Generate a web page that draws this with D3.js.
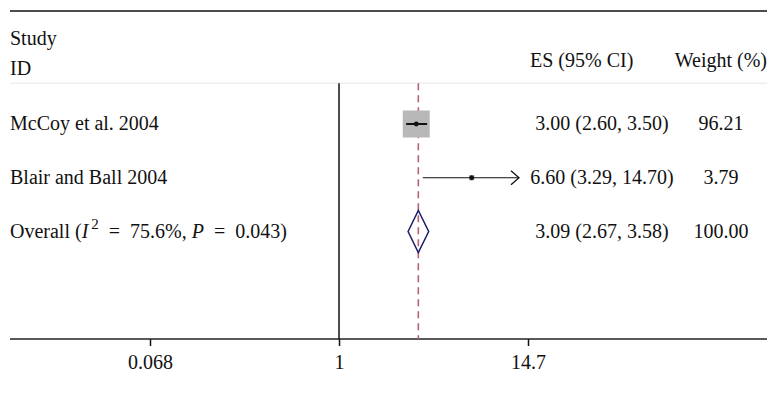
<!DOCTYPE html>
<html lang="en">
<head>
    <meta charset="UTF-8">
    <title>Forest plot</title>
    <script src="https://cdn.jsdelivr.net/npm/d3@7"></script>
</head>
<style>
    body {
        margin: 0;
        background: #fff;
    }
    text {
        font-family: "Liberation Serif", "DejaVu Serif", serif;
        font-size: 20px;
        fill: #111;
    }
</style>
<body>
<div id="my_dataviz"></div>

<script>
    // data
    var studies = ["McCoy et al. 2004", "Blair and Ball 2004"];
    var es = [3.00, 6.60];
    var lower = [2.60, 3.29];
    var upper = [3.50, 14.70];
    var weights = ["96.21", "3.79"];
    var overall = {es: 3.09, lower: 2.67, upper: 3.58, weight: "100.00"};
    var tickValues = [0.068, 1, 14.7];
    var tickLabels = ["0.068", "1", "14.7"];

    var width = 770, height = 393;

    var svg = d3.select("#my_dataviz")
        .append("svg")
        .attr("width", width)
        .attr("height", height);

    // log scale for effect sizes
    var x = d3.scaleLog()
        .domain([0.068, 14.7])
        .range([150, 528]);

    // one row per study, overall on row 2, axis on row 4
    var y = d3.scaleLinear()
        .domain([0, 4])
        .range([124, 339]);

    var plotTop = y(-0.76);
    var left = 10, right = 767;
    var esCol = 602, wCol = 721;

    // top rule
    svg.append("line")
        .attr("x1", left).attr("x2", right)
        .attr("y1", 11).attr("y2", 11)
        .attr("stroke", "#111").attr("stroke-width", 1.5);

    // faint top of plot region
    svg.append("line")
        .attr("x1", left).attr("x2", right)
        .attr("y1", plotTop).attr("y2", plotTop)
        .attr("stroke", "#e6e6e6").attr("stroke-width", 1);

    // headers
    svg.append("text").attr("x", left).attr("y", 45).text("Study");
    svg.append("text").attr("x", left).attr("y", 75).text("ID");
    svg.append("text").attr("x", 530).attr("y", 67)
        .text("ES (95% CI)");
    svg.append("text").attr("x", right).attr("y", 67)
        .style("text-anchor", "end").text("Weight (%)");

    // x axis
    var xAxis = svg.append("g")
        .attr("transform", "translate(0," + y(4) + ")")
        .call(d3.axisBottom(x)
            .tickValues(tickValues)
            .tickFormat(function(d, i) { return tickLabels[i]; })
            .tickSizeOuter(0)
            .tickSize(7)
            .tickPadding(9));
    xAxis.select(".domain").remove();
    xAxis.selectAll("line").attr("stroke", "#111").attr("stroke-width", 1.5);
    xAxis.selectAll("text")
        .attr("font-family", null).attr("font-size", null)
        .style("font-size", "20px").style("fill", "#111");
    svg.append("line")
        .attr("x1", left).attr("x2", right)
        .attr("y1", y(4)).attr("y2", y(4))
        .attr("stroke", "#222").attr("stroke-width", 1.5);

    // null line
    svg.append("line")
        .attr("x1", x(1)).attr("x2", x(1))
        .attr("y1", plotTop).attr("y2", y(4))
        .attr("stroke", "#111").attr("stroke-width", 1.5);

    // overall effect line
    svg.append("line")
        .attr("x1", x(overall.es)).attr("x2", x(overall.es))
        .attr("y1", plotTop).attr("y2", y(4))
        .attr("stroke", "#b4636e").attr("stroke-width", 1.6)
        .attr("stroke-dasharray", "7,5");

    // study boxes, sized by weight
    var boxSize = d3.scaleSqrt().domain([0, 96.21]).range([0, 27]);
    studies.forEach(function(s, i) {
        var cy = y(i);
        var b = Math.max(boxSize(+weights[i]), 5);
        svg.append("rect")
            .attr("x", x(es[i]) - b / 2).attr("y", cy - b / 2)
            .attr("width", b).attr("height", b)
            .attr("fill", "#b8b8b8");

        var clipped = upper[i] >= x.domain()[1];
        var x2 = clipped ? x(x.domain()[1]) - 9 : x(upper[i]);
        svg.append("line")
            .attr("x1", x(lower[i])).attr("x2", x2)
            .attr("y1", cy).attr("y2", cy)
            .attr("stroke", "#111").attr("stroke-width", i === 0 ? 2 : 1.2);

        if (clipped) {
            // open arrow head where the interval runs off the scale
            svg.append("path")
                .attr("d", "M" + (x2 - 8) + "," + (cy - 7) + "L" + x2 + "," + cy + "L" + (x2 - 8) + "," + (cy + 7))
                .attr("fill", "none").attr("stroke", "#111").attr("stroke-width", 1.3);
        }

        svg.append("circle")
            .attr("cx", x(es[i])).attr("cy", cy).attr("r", 2.4)
            .attr("fill", "#111");

        svg.append("text").attr("x", left).attr("y", cy + 6).text(s);
        svg.append("text").attr("x", esCol).attr("y", cy + 6)
            .style("text-anchor", "middle")
            .text(es[i].toFixed(2) + " (" + lower[i].toFixed(2) + ", " + upper[i].toFixed(2) + ")");
        svg.append("text").attr("x", wCol).attr("y", cy + 6)
            .style("text-anchor", "middle").text(weights[i]);
    });

    // overall diamond
    var oy = y(2);
    var diamond = [
        [x(overall.lower), oy], [x(overall.es), oy - 21],
        [x(overall.upper), oy], [x(overall.es), oy + 21]
    ];
    svg.append("path")
        .attr("d", d3.line()(diamond) + "Z")
        .attr("fill", "none")
        .attr("stroke", "#1c1c6b").attr("stroke-width", 1.5);

    var ov = svg.append("text").attr("x", left).attr("y", oy + 6);
    ov.append("tspan").text("Overall (");
    ov.append("tspan").style("font-style", "italic").text("I");
    ov.append("tspan").attr("dy", -9).style("font-size", "15px").text("\u20092");
    ov.append("tspan").attr("dy", 9).text("\u2002=\u200275.6%, ");
    ov.append("tspan").style("font-style", "italic").text("P");
    ov.append("tspan").text("\u2002=\u20020.043)");

    svg.append("text").attr("x", esCol).attr("y", oy + 6)
        .style("text-anchor", "middle")
        .text(overall.es.toFixed(2) + " (" + overall.lower.toFixed(2) + ", " + overall.upper.toFixed(2) + ")");
    svg.append("text").attr("x", wCol).attr("y", oy + 6)
        .style("text-anchor", "middle").text(overall.weight);
</script>
</body>
</html>
